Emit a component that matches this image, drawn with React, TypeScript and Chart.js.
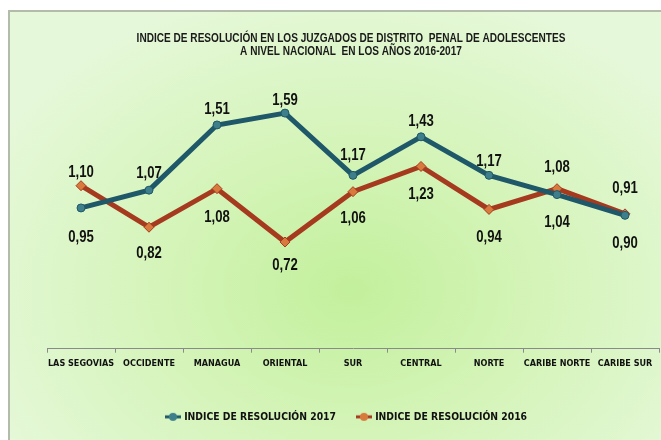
import React, { useEffect, useRef } from "react";
import { Chart, registerables } from "chart.js";

Chart.register(...registerables);

const CATEGORIES = [
  "LAS SEGOVIAS",
  "OCCIDENTE",
  "MANAGUA",
  "ORIENTAL",
  "SUR",
  "CENTRAL",
  "NORTE",
  "CARIBE NORTE",
  "CARIBE SUR",
];
const VALUES_2017 = [0.95, 1.07, 1.51, 1.59, 1.17, 1.43, 1.17, 1.04, 0.9];
const VALUES_2016 = [1.1, 0.82, 1.08, 0.72, 1.06, 1.23, 0.94, 1.08, 0.91];
const SERIES_NAMES = ["INDICE DE RESOLUCIÓN 2017", "INDICE DE RESOLUCIÓN 2016"];
const TITLE_LINES = [
  "INDICE DE RESOLUCIÓN EN LOS JUZGADOS DE DISTRITO  PENAL DE ADOLESCENTES",
  "A NIVEL NACIONAL  EN LOS AÑOS 2016-2017",
];

// label placement (px offset from the point, negative = above)
const LABEL_DY_2017 = [30, -17, -15, -13, -20, -15, -14, 28, 28];
const LABEL_DY_2016 = [-13, 26, 29, 24, 27, 28, 28, -21, -25];

const NARROW_FONT = '"Liberation Sans", Arial, sans-serif';
const FONT = '"DejaVu Sans Condensed", "Liberation Sans", sans-serif';
const COLOR_2017 = "#1f5868";
const COLOR_2016 = "#a53a1f";
const MARKER_2017 = "#3f7f8c";
const MARKER_2016 = "#d8793e";

function legendIcon(line: string, dot: string) {
  const c = document.createElement("canvas");
  c.width = 16;
  c.height = 10;
  const ctx = c.getContext("2d")!;
  ctx.strokeStyle = line;
  ctx.lineWidth = 3;
  ctx.beginPath();
  ctx.moveTo(0, 5);
  ctx.lineTo(16, 5);
  ctx.stroke();
  ctx.fillStyle = dot;
  ctx.beginPath();
  ctx.arc(8, 5, 4, 0, Math.PI * 2);
  ctx.fill();
  return c;
}

function drawNarrow(
  ctx: CanvasRenderingContext2D,
  text: string,
  x: number,
  y: number,
  size: number,
  scaleX: number
) {
  ctx.save();
  ctx.translate(x, y);
  ctx.scale(scaleX, 1);
  ctx.font = `bold ${size}px ${NARROW_FONT}`;
  ctx.textAlign = "center";
  ctx.textBaseline = "middle";
  ctx.fillText(text, 0, 0);
  ctx.restore();
}

const titlePlugin = {
  id: "narrowTitle",
  afterDraw(chart: any) {
    const ctx = chart.ctx;
    ctx.save();
    ctx.fillStyle = "#1a1a1a";
    const cx = chart.width / 2;
    drawNarrow(ctx, TITLE_LINES[0], cx, 27, 12, 0.84);
    drawNarrow(ctx, TITLE_LINES[1], cx, 40, 12, 0.84);
    ctx.restore();
  },
};

const legendShiftPlugin = {
  id: "legendShift",
  afterLayout(chart: any) {
    if (chart.legend) {
      chart.legend.left -= 6;
      chart.legend.right -= 6;
    }
  },
};

const dataLabelPlugin = {
  id: "dataLabels",
  afterDatasetsDraw(chart: any) {
    const ctx = chart.ctx;
    const offsets = [LABEL_DY_2017, LABEL_DY_2016];
    ctx.save();
    ctx.fillStyle = "#111";
    chart.data.datasets.forEach((ds: any, di: number) => {
      const meta = chart.getDatasetMeta(di);
      meta.data.forEach((el: any, i: number) => {
        const v = ds.data[i] as number;
        const txt = v.toFixed(2).replace(".", ",");
        drawNarrow(ctx, txt, el.x, el.y + offsets[di][i], 16, 0.82);
      });
    });
    ctx.restore();
  },
};

export default function App() {
  const ref = useRef<HTMLCanvasElement>(null);

  useEffect(() => {
    if (!ref.current) return;
    const icons = [legendIcon(COLOR_2017, MARKER_2017), legendIcon(COLOR_2016, MARKER_2016)];
    const chart = new Chart(ref.current, {
      type: "line",
      data: {
        labels: CATEGORIES,
        datasets: [
          {
            label: SERIES_NAMES[0],
            data: VALUES_2017,
            borderColor: COLOR_2017,
            backgroundColor: MARKER_2017,
            borderWidth: 5,
            pointRadius: 4,
            pointBorderWidth: 1,
            pointBorderColor: COLOR_2017,
            pointBackgroundColor: MARKER_2017,
            tension: 0,
          },
          {
            label: SERIES_NAMES[1],
            data: VALUES_2016,
            borderColor: COLOR_2016,
            backgroundColor: MARKER_2016,
            borderWidth: 5,
            pointRadius: 5,
            pointStyle: "rectRot",
            pointBorderWidth: 1,
            pointBorderColor: COLOR_2016,
            pointBackgroundColor: MARKER_2016,
            tension: 0,
          },
        ],
      },
      options: {
        animation: false,
        responsive: false,
        maintainAspectRatio: false,
        layout: { padding: { left: 37, right: 33, top: 70, bottom: 28 } },
        scales: {
          x: {
            offset: true,
            afterFit: (scale: any) => {
              scale.height = 41;
            },
            grid: {
              display: true,
              drawOnChartArea: false,
              offset: true,
              tickLength: 4,
              color: "#8a8a8a",
            },
            border: { color: "#8a8a8a", width: 1 },
            ticks: {
              autoSkip: false,
              maxRotation: 0,
              padding: 6,
              color: "#111",
              font: { family: FONT, size: 9, weight: "bold" },
            },
          },
          y: {
            display: false,
            min: 0,
            max: 1.8,
          },
        },
        plugins: {
          title: { display: false },
          legend: {
            display: true,
            position: "bottom",
            labels: {
              usePointStyle: true,
              pointStyleWidth: 12,
              padding: 22,
              color: "#111",
              font: { family: FONT, size: 10.3, weight: "bold" },
              generateLabels: (c: any) => {
                const items = Chart.defaults.plugins.legend.labels.generateLabels(c);
                return items.map((it: any, i: number) => ({ ...it, pointStyle: icons[i] }));
              },
            },
          },
          tooltip: { enabled: false },
        },
      },
      plugins: [dataLabelPlugin, titlePlugin, legendShiftPlugin],
    } as any);
    return () => chart.destroy();
  }, []);

  return (
    <div
      style={{
        position: "fixed",
        left: 0,
        top: 0,
        width: 661,
        height: 440,
        overflow: "hidden",
        background: "#ffffff",
      }}
    >
      <div
        style={{
          position: "absolute",
          left: 8,
          top: 10,
          width: 682,
          height: 448,
          borderLeft: "2px solid #b3bcaa",
          borderTop: "2px solid #b3bcaa",
          background:
            "radial-gradient(ellipse 60% 70% at 50% 62%, #c3f09c 0%, #d4f4b8 45%, #e6f8da 100%)",
        }}
      >
        <canvas ref={ref} width={682} height={448} style={{ display: "block" }} />
      </div>
    </div>
  );
}
